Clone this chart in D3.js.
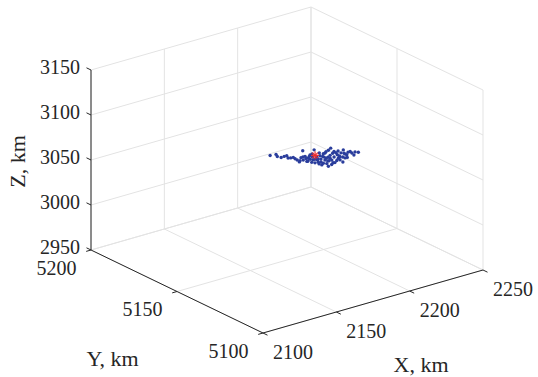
<!DOCTYPE html>
<html>
<head>
<meta charset="utf-8">
<script src="https://cdn.jsdelivr.net/npm/d3@7/dist/d3.min.js"></script>
<style>
  html, body { margin: 0; padding: 0; background: #fff; }
</style>
</head>
<body>
<svg id="chart" width="538" height="377" font-family="'Liberation Serif', 'DejaVu Serif', serif"></svg>
<script>
// tick values
const xTicks = [2100, 2150, 2200, 2250];
const yTicks = [5100, 5150, 5200];
const zTicks = [2950, 3000, 3050, 3100, 3150];

// scattered points (km)
const ptX = [2180.5, 2184.3, 2182.7, 2183.8, 2185.6, 2187.6, 2186.4, 2187.0, 2188.5, 2188.6,
  2198.4, 2190.9, 2193.2, 2191.9, 2196.4, 2194.4, 2192.7, 2199.0, 2195.3, 2203.7,
  2199.1, 2202.5, 2196.5, 2206.1, 2202.4, 2200.2, 2209.9, 2206.5, 2213.0, 2203.1,
  2209.4, 2206.4, 2202.4, 2209.9, 2207.4, 2206.6, 2213.0, 2210.7, 2216.9, 2213.8,
  2212.1, 2218.3, 2217.6, 2217.0, 2221.3, 2196.3, 2198.9, 2194.4, 2193.5, 2190.9,
  2187.4, 2198.2, 2197.2, 2194.6, 2198.0, 2204.6, 2213.9, 2200.2, 2196.9, 2201.6,
  2203.9, 2211.4, 2209.9, 2206.3, 2204.8, 2196.5, 2194.6, 2188.3, 2189.0, 2200.0,
  2198.1, 2204.1, 2211.1, 2210.5, 2193.4, 2207.7, 2209.3,
  2204.4, 2196.7, 2201.0, 2213.7, 2217.1, 2220.1, 2191.7, 2202.4, 2195.1, 2201.0,
  2214.5, 2194.1];
const ptY = [5164.5, 5164.3, 5162.2, 5160.9, 5160.7, 5160.9, 5159.1, 5158.1, 5156.8, 5154.0,
  5160.8, 5154.1, 5154.5, 5152.3, 5155.3, 5153.1, 5150.7, 5153.2, 5149.1, 5155.7,
  5150.8, 5152.7, 5147.2, 5154.4, 5150.6, 5147.8, 5155.7, 5151.8, 5157.0, 5147.9,
  5152.8, 5149.4, 5145.5, 5150.5, 5147.8, 5146.1, 5151.0, 5148.0, 5153.0, 5149.3,
  5146.6, 5150.2, 5148.6, 5146.9, 5148.0, 5144.1, 5144.4, 5146.3, 5149.5, 5152.0,
  5153.4, 5156.4, 5154.1, 5154.3, 5146.5, 5146.3, 5148.4, 5149.4, 5151.0, 5153.5,
  5149.6, 5153.7, 5149.3, 5144.2, 5154.3, 5152.1, 5156.2, 5155.4, 5158.3, 5156.7,
  5151.6, 5151.0, 5152.3, 5146.5, 5156.4, 5155.2, 5148.4,
  5159.3, 5148.7, 5145.4, 5153.3, 5150.4, 5148.9, 5156.1, 5151.8, 5152.0, 5147.7,
  5150.5, 5147.6];
const ptZ = [3050.2, 3049.8, 3050.1, 3049.7, 3050.3, 3050.0, 3049.6, 3050.4, 3049.9, 3050.2,
  3050.5, 3049.8, 3050.1, 3049.7, 3050.3, 3050.0, 3049.6, 3050.2, 3049.9, 3050.4,
  3050.1, 3049.8, 3050.0, 3050.3, 3049.7, 3050.2, 3050.4, 3049.9, 3050.1, 3049.8,
  3050.0, 3050.3, 3049.6, 3050.2, 3049.9, 3050.1, 3050.4, 3049.7, 3050.0, 3050.2,
  3049.8, 3050.1, 3050.3, 3049.9, 3050.0, 3049.7, 3050.2, 3050.0, 3049.8, 3050.3,
  3050.1, 3049.9, 3050.2, 3050.0, 3049.6, 3050.1, 3050.3, 3049.8, 3050.0, 3050.2,
  3049.9, 3050.1, 3050.0, 3049.7, 3050.2, 3049.9, 3050.3, 3050.0, 3049.8, 3050.1,
  3050.0, 3049.8, 3050.2, 3050.1, 3049.9, 3050.3, 3050.0,
  3050.1, 3049.9, 3050.2, 3050.0, 3049.8, 3050.1, 3050.3, 3049.9, 3050.0, 3050.2,
  3049.8, 3050.1];

// reference point (red star)
const starX = [2200.0];
const starY = [5155.0];
const starZ = [3050.0];

const svg = d3.select('#chart');

const sx = d3.scaleLinear().domain([2100, 2250]).range([0, 1]);
const sy = d3.scaleLinear().domain([5100, 5200]).range([0, 1]);
const sz = d3.scaleLinear().domain([2950, 3150]).range([0, 1]);

// screen vectors of the box edges (orthographic view)
const origin = [263, 333];
const xVec = [220, -63], yVec = [-172, -83], zVec = [0, -180];

function proj(x, y, z) {
  const a = sx(x), b = sy(y), c = sz(z);
  return [origin[0] + a * xVec[0] + b * yVec[0] + c * zVec[0],
          origin[1] + a * xVec[1] + b * yVec[1] + c * zVec[1]];
}

const x0 = 2100, x1 = 2250, y0 = 5100, y1 = 5200, z0 = 2950, z1 = 3150;
const grid = svg.append('g').attr('stroke', '#e3e3e3').attr('stroke-width', 1).attr('fill', 'none');
function seg(g, p, q) {
  g.append('line').attr('x1', p[0]).attr('y1', p[1]).attr('x2', q[0]).attr('y2', q[1]);
}

// floor
xTicks.forEach(v => seg(grid, proj(v, y0, z0), proj(v, y1, z0)));
yTicks.forEach(v => seg(grid, proj(x0, v, z0), proj(x1, v, z0)));
// back wall y = max
xTicks.forEach(v => seg(grid, proj(v, y1, z0), proj(v, y1, z1)));
zTicks.forEach(v => seg(grid, proj(x0, y1, v), proj(x1, y1, v)));
// back wall x = max
yTicks.forEach(v => seg(grid, proj(x1, v, z0), proj(x1, v, z1)));
zTicks.forEach(v => seg(grid, proj(x1, y0, v), proj(x1, y1, v)));

// axes
const axes = svg.append('g').attr('stroke', '#262626').attr('stroke-width', 1).attr('fill', 'none');
seg(axes, proj(x0, y0, z0), proj(x1, y0, z0));
seg(axes, proj(x0, y0, z0), proj(x0, y1, z0));
seg(axes, proj(x0, y1, z0), proj(x0, y1, z1));

function unit(v) { const l = Math.hypot(v[0], v[1]); return [v[0] / l, v[1] / l]; }
const tickLen = 5;
const uy = unit(yVec), ux = unit(xVec);

const labels = svg.append('g').attr('font-size', 20).attr('fill', '#262626');

xTicks.forEach(v => {
  const p = proj(v, y0, z0);
  seg(axes, p, [p[0] - uy[0] * tickLen, p[1] - uy[1] * tickLen]);
  labels.append('text').attr('x', p[0] + 30).attr('y', p[1] + 26)
    .attr('text-anchor', 'middle').text(v);
});
yTicks.forEach(v => {
  const p = proj(x0, v, z0);
  seg(axes, p, [p[0] - ux[0] * tickLen, p[1] - ux[1] * tickLen]);
  labels.append('text').attr('x', p[0] - 34.5).attr('y', p[1] + 24.5)
    .attr('text-anchor', 'middle').text(v);
});
zTicks.forEach(v => {
  const p = proj(x0, y1, v);
  seg(axes, p, [p[0] + uy[0] * tickLen, p[1] + uy[1] * tickLen]);
  labels.append('text').attr('x', p[0] - 11).attr('y', p[1] + 3.5)
    .attr('text-anchor', 'end').text(v);
});

// axis titles
const titles = svg.append('g').attr('font-size', 22).attr('text-anchor', 'middle').attr('fill', '#262626');
const px = proj(2175, y0, z0);
titles.append('text').attr('x', px[0] + 48).attr('y', px[1] + 70).text('X, km');
const py = proj(x0, 5150, z0);
titles.append('text').attr('x', py[0] - 64.5).attr('y', py[1] + 74).text('Y, km');
const pz = proj(x0, y1, 3050);
titles.append('text').attr('transform', `translate(${pz[0] - 66},${pz[1] + 1.5}) rotate(-90)`).text('Z, km');

// data points
const pts = ptX.map((d, i) => proj(d, ptY[i], ptZ[i]));
svg.append('g').selectAll('circle')
  .data(pts)
  .enter()
  .append('circle')
  .attr('cx', d => d[0])
  .attr('cy', d => d[1])
  .attr('r', 1.7)
  .attr('fill', '#2a3d9c');

// star marker
const st = starX.map((d, i) => proj(d, starY[i], starZ[i]));
const star = svg.append('g').attr('stroke', '#ee2a2a').attr('stroke-width', 1.2);
st.forEach(p => {
  const r = 4;
  seg(star, [p[0] - r, p[1]], [p[0] + r, p[1]]);
  seg(star, [p[0], p[1] - r], [p[0], p[1] + r]);
  seg(star, [p[0] - r * 0.7, p[1] - r * 0.7], [p[0] + r * 0.7, p[1] + r * 0.7]);
  seg(star, [p[0] - r * 0.7, p[1] + r * 0.7], [p[0] + r * 0.7, p[1] - r * 0.7]);
});
</script>
</body>
</html>
